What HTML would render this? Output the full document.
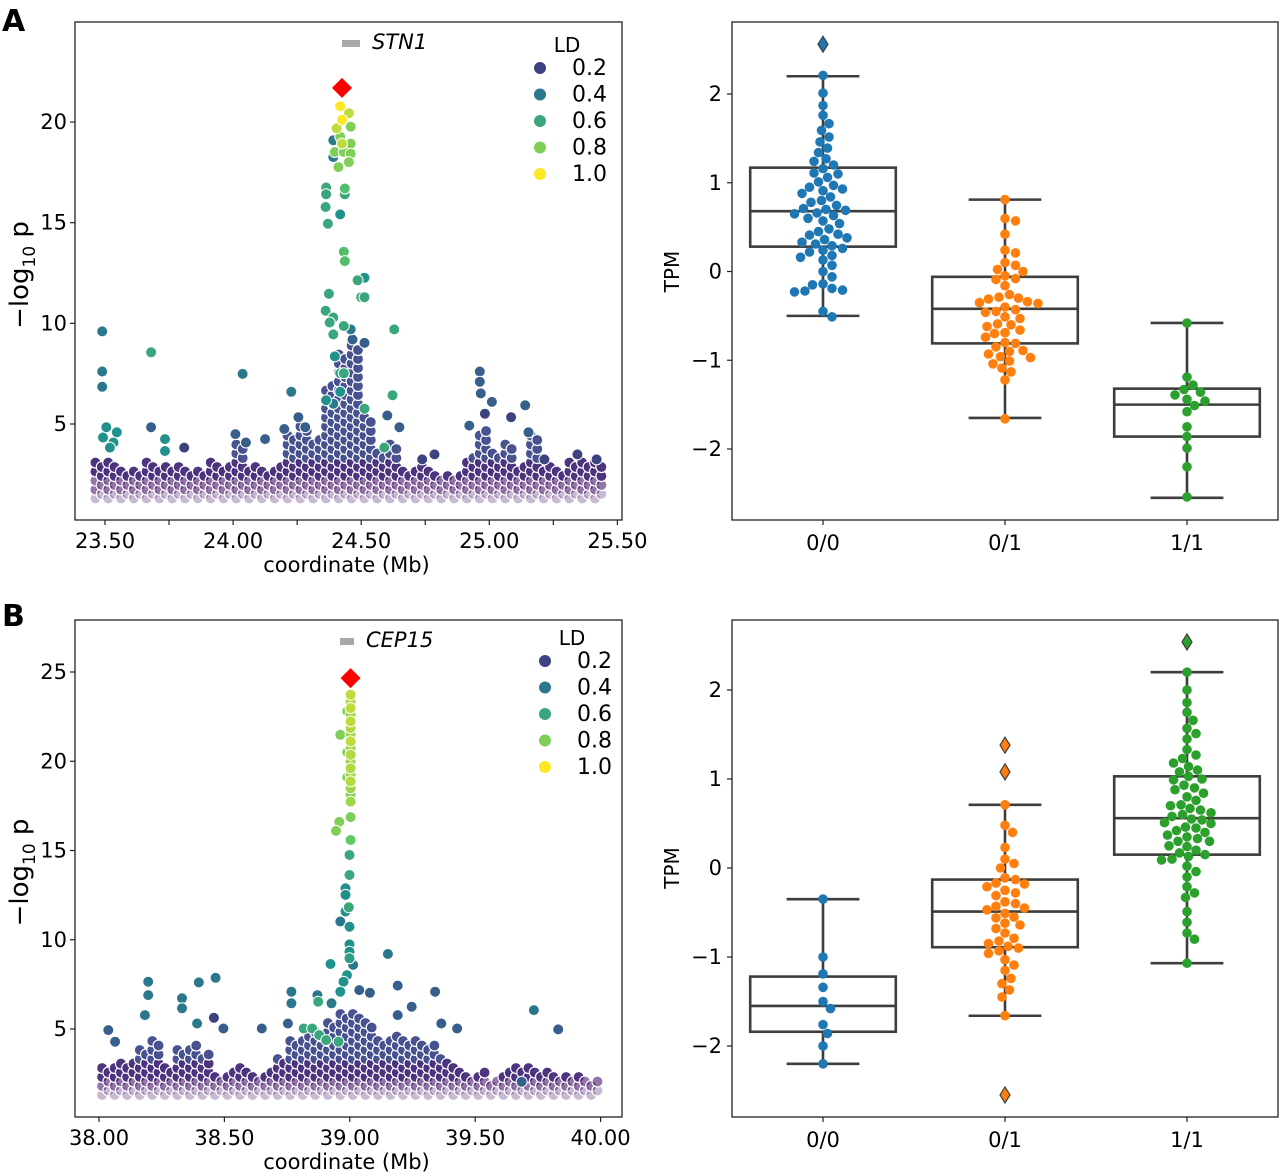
<!DOCTYPE html>
<html><head><meta charset="utf-8">
<style>
html,body{margin:0;padding:0;background:#fff;}
svg{display:block;font-family:"DejaVu Sans","Liberation Sans",sans-serif;}
</style></head>
<body>
<svg id="fig" width="1280" height="1176" viewBox="0 0 1280 1176" xmlns="http://www.w3.org/2000/svg">
<rect width="1280" height="1176" fill="#fff"/>
<text x="2" y="31" font-size="30" font-weight="bold">A</text>
<text x="2" y="626" font-size="30" font-weight="bold">B</text>
<g id="layer"></g>
</svg>
<script>
// ---------- Panel A Manhattan data ----------
const bandA_x = [23.475,23.525,23.575,23.625,23.675,23.725,23.775,23.825,23.875,23.925,23.975,24.025,24.075,24.125,24.175,24.225,24.275,24.325,24.375,24.425,24.475,24.525,24.575,24.625,24.675,24.725,24.775,24.825,24.875,24.925,24.975,25.025,25.075,25.125,25.175,25.225,25.275,25.325,25.375,25.425];
const bandA_top = [3.2,3.3,2.8,2.7,3.3,2.9,3.0,2.8,2.8,3.3,3.0,4.0,3.0,2.7,3.0,4.5,5.0,4.3,7.0,8.5,9.0,5.5,3.6,4.0,2.8,3.0,2.8,2.6,2.6,3.4,4.8,3.6,4.0,3.0,4.5,2.9,2.7,3.3,3.3,3.2];
const snpA_x = [24.418,24.452,24.425,24.459,24.404,24.459,24.391,24.418,24.397,24.432,24.459,24.411,24.452,24.391,24.425,
 24.363,24.363,24.436,24.436,24.361,24.418,24.370,24.432,24.436,24.486,24.513,24.500,24.513,24.374,24.361,24.391,24.377,24.432,24.459,24.629,24.391,24.466,24.513,
 23.489,23.489,23.489,23.680,24.037,24.227,24.963,24.963,24.967,25.010,24.983,25.140,24.622,24.602,24.649,
 23.505,23.546,23.492,23.533,23.519,23.680,23.734,23.734,23.809,24.125,24.009,24.050,24.200,24.255,24.282,24.922,25.085,25.153,25.215,25.419,25.344,24.786,24.738,
 24.418,24.432,24.397,24.363,24.391,24.418,24.513,24.590];
const snpA_p = [20.78,20.44,20.11,19.77,19.69,18.93,19.10,19.27,18.51,18.51,18.43,17.76,18.01,18.26,18.93,
 16.75,16.41,16.70,16.41,15.78,15.41,14.95,13.56,13.09,12.14,12.27,11.30,11.30,11.47,10.63,10.29,10.04,9.87,9.70,9.70,9.45,9.20,9.03,
 9.60,7.61,6.85,8.56,7.49,6.60,7.61,7.10,6.52,6.10,5.51,5.93,6.43,5.42,4.84,
 4.84,4.59,4.33,4.08,3.83,4.84,4.25,3.66,3.83,4.25,4.50,4.08,4.75,5.34,4.84,4.92,5.34,4.59,3.24,3.24,3.49,3.49,3.24,
 7.52,7.52,8.36,6.18,6.01,6.60,5.76,3.83];
const snpA_ld = [1.0,0.9,1.0,0.8,0.9,0.8,0.4,0.8,0.8,0.8,0.8,0.8,0.8,0.4,0.9,
 0.6,0.6,0.7,0.6,0.6,0.5,0.6,0.7,0.7,0.6,0.5,0.6,0.6,0.6,0.6,0.6,0.6,0.6,0.4,0.6,0.6,0.3,0.3,
 0.4,0.4,0.4,0.6,0.4,0.4,0.3,0.3,0.3,0.3,0.2,0.3,0.6,0.3,0.3,
 0.5,0.5,0.5,0.5,0.5,0.3,0.5,0.5,0.2,0.3,0.3,0.3,0.3,0.3,0.3,0.3,0.2,0.3,0.2,0.2,0.2,0.2,0.2,
 0.6,0.6,0.5,0.5,0.4,0.5,0.6,0.6];
const leadA = [24.425, 21.7];
// ---------- Panel B Manhattan data ----------
const bandB_x = [38.025,38.075,38.125,38.175,38.225,38.275,38.325,38.375,38.425,38.475,38.525,38.575,38.625,38.675,38.725,38.775,38.825,38.875,38.925,38.975,39.025,39.075,39.125,39.175,39.225,39.275,39.325,39.375,39.425,39.475,39.525,39.575,39.625,39.675,39.725,39.775,39.825,39.875,39.925,39.975];
const bandB_top = [3.0,3.2,3.2,4.0,4.5,3.0,4.0,4.3,3.6,2.5,2.8,3.0,2.5,2.8,3.5,4.5,4.8,5.0,5.5,6.0,6.0,5.5,4.5,4.8,4.5,4.5,4.2,3.5,3.0,2.5,2.6,2.3,2.8,3.0,3.0,2.7,2.5,2.5,2.4,2.2];
const snpB_x = [39.003,39.003,39.003,39.003,39.003,39.003,39.003,39.003,39.003,39.003,39.003,39.003,39.003,39.003,39.003,39.003,39.003,38.990,38.990,38.962,38.990,
 39.003,38.958,38.945,39.003,38.999,38.999,38.983,38.983,38.996,38.983,38.962,38.999,38.999,38.999,38.999,38.923,39.013,39.152,38.989,38.975,38.962,39.191,39.340,39.734,39.831,
 38.196,38.196,38.183,38.398,38.465,38.331,38.331,38.391,38.458,38.496,38.037,38.064,38.649,38.767,38.767,38.753,38.871,38.874,38.927,38.816,38.850,38.878,38.906,38.955,39.080,39.038,39.191,39.247,39.428,39.365,39.685];
const snpB_p = [23.73,23.35,22.98,22.60,22.23,21.86,21.48,21.11,20.73,20.36,19.99,19.61,19.24,18.87,18.49,18.12,17.74,22.80,20.50,21.48,19.10,
 16.87,16.60,16.10,15.59,14.75,13.63,12.88,12.51,11.82,11.58,11.02,10.73,9.74,9.33,8.96,8.64,8.59,9.20,8.02,7.65,7.09,7.43,7.09,6.06,4.98,
 7.65,6.90,5.78,7.61,7.87,6.72,6.16,5.31,5.63,5.03,4.94,4.29,5.03,7.09,6.44,5.31,6.90,6.53,6.44,5.03,5.03,4.66,4.38,4.29,7.03,7.18,5.78,6.25,5.03,5.31,2.04];
const snpB_ld = [0.9,0.88,0.9,0.85,0.9,0.88,0.85,0.9,0.85,0.88,0.85,0.88,0.85,0.88,0.85,0.8,0.85,0.8,0.8,0.8,0.8,
 0.8,0.8,0.8,0.75,0.6,0.6,0.5,0.5,0.6,0.5,0.4,0.5,0.5,0.5,0.55,0.5,0.4,0.4,0.5,0.5,0.5,0.3,0.3,0.4,0.3,
 0.4,0.4,0.4,0.4,0.4,0.4,0.4,0.4,0.2,0.3,0.3,0.3,0.3,0.4,0.4,0.3,0.4,0.6,0.4,0.6,0.6,0.6,0.6,0.6,0.3,0.3,0.3,0.3,0.3,0.3,0.3];
const leadB = [39.003, 24.66];
// ---------- Box plot data ----------
const cats = ["0/0","0/1","1/1"];
const tpmA_g0 = [2.21,2.01,1.87,1.76,1.665,1.59,1.515,1.46,1.39,1.34,1.27,1.24,1.20,1.16,1.11,1.06,1.01,0.97,0.93,0.91,0.88,0.84,0.78,0.745,0.71,0.69,0.65,0.63,0.54,0.48,0.45,0.41,0.38,0.33,0.31,0.26,0.22,0.18,0.13,0.07,0.0,-0.06,-0.14,-0.19,-0.21,-0.23,-0.45,-0.51,1.10,0.95,0.80,0.70,0.66,0.57,0.42,0.36,0.29,0.24,0.16,-0.15,-0.22,0.60];
const tpmA_g1 = [0.81,0.597,0.57,0.42,0.24,0.21,0.10,0.07,0.024,0.0,-0.08,-0.09,-0.16,-0.26,-0.29,-0.31,-0.34,-0.36,-0.40,-0.43,-0.46,-0.51,-0.53,-0.59,-0.62,-0.66,-0.69,-0.74,-0.80,-0.81,-0.85,-0.89,-0.93,-0.96,-1.01,-1.04,-1.09,-1.13,-1.22,-1.66,-0.35,-0.45,-0.6,-0.7,-0.9,-0.3,-0.05,-0.97];
const tpmA_g2 = [-0.58,-1.19,-1.28,-1.33,-1.39,-1.44,-1.51,-1.58,-1.75,-1.86,-1.99,-2.2,-2.54,-1.36,-1.46];
const statsA_q1 = [0.28,-0.81,-1.86], statsA_med = [0.68,-0.42,-1.50], statsA_q3 = [1.17,-0.06,-1.32];
const statsA_lo = [-0.50,-1.65,-2.55], statsA_hi = [2.20,0.81,-0.58];
const outA_v = [2.56], outA_c = [0];
const tpmB_g0 = [-0.35,-1.0,-1.19,-1.34,-1.50,-1.58,-1.76,-1.86,-2.0,-2.2];
const tpmB_g1 = [0.71,0.48,0.40,0.23,0.10,0.05,0.0,-0.11,-0.13,-0.17,-0.21,-0.25,-0.31,-0.40,-0.43,-0.47,-0.51,-0.56,-0.64,-0.68,-0.73,-0.79,-0.85,-0.90,-0.96,-1.03,-1.09,-1.15,-1.24,-1.30,-1.37,-1.45,-1.66,-0.18,-0.45,-0.55,-0.62,-0.82,-0.88,-0.28,-0.38,-0.93];
const tpmB_g2 = [2.2,2.0,1.86,1.75,1.66,1.57,1.51,1.45,1.33,1.27,1.23,1.18,1.14,1.08,1.03,0.99,0.93,0.88,0.84,0.76,0.71,0.67,0.62,0.58,0.54,0.51,0.46,0.42,0.37,0.33,0.30,0.24,0.20,0.17,0.13,0.09,0.02,-0.04,-0.10,-0.21,-0.28,-0.33,-0.49,-0.61,-0.73,-0.80,-1.07,1.0,0.9,0.8,0.7,0.6,0.5,0.4,0.3,0.25,0.1,0.55,0.65,0.45,0.35,1.1,0.15];
const statsB_q1 = [-1.84,-0.89,0.15], statsB_med = [-1.55,-0.49,0.56], statsB_q3 = [-1.22,-0.13,1.03];
const statsB_lo = [-2.2,-1.66,-1.07], statsB_hi = [-0.35,0.71,2.2];
const outB_v = [1.38,1.08,-2.55,2.54], outB_c = [1,1,1,2];
const ldLegend = [0.2,0.4,0.6,0.8,1.0];
const tickA_x = [23.5,23.75,24.0,24.25,24.5,24.75,25.0,25.25,25.5];
const tickA_lab = ["23.50","24.00","24.50","25.00","25.50"];
const tickA_y = [5,10,15,20];
const tickB_x = [38.0,38.5,39.0,39.5,40.0];
const tickB_lab = ["38.00","38.50","39.00","39.50","40.00"];
const tickB_y = [5,10,15,20,25];
const tickTPM = [2,1,0,-1,-2];

const NS = "http://www.w3.org/2000/svg";
const layer = document.getElementById('layer');
function mk(tag, attrs, parent){ const e=document.createElementNS(NS,tag); for(const k in attrs) e.setAttribute(k,attrs[k]); (parent||layer).appendChild(e); return e; }
const stops=[[0,[68,1,84]],[0.25,[59,82,139]],[0.5,[33,145,140]],[0.75,[94,201,98]],[1,[253,231,37]]];
function viridis(t){ t=Math.max(0,Math.min(1,t)); for(let i=1;i<stops.length;i++){ if(t<=stops[i][0]){ const a=stops[i-1],b=stops[i],f=(t-a[0])/(b[0]-a[0]); return 'rgb('+a[1].map((c,j)=>Math.round(c+(b[1][j]-c)*f)).join(',')+')'; } } return 'rgb(253,231,37)'; }
const boxColors=['#1f77b4','#ff7f0e','#2ca02c'];

function manhattan(cfg){
  const g = mk('g',{});
  
  
  const X = v => cfg.x0 + (v - cfg.xd0) * cfg.xs;
  const Y = v => cfg.y0 - (v - cfg.yd0) * cfg.ys;
  const step = 0.45 * 20 / cfg.ys;
  for (let i=0;i<cfg.bx.length;i++){
    for (let s=0;s<2;s++){
      const mb = cfg.bx[i] + (s? 0.025:0) - 0.0125;
      for (let p=1.3 + (s?step/2:0); p<=cfg.bt[i]; p+=step){
        const c = mk('circle',{cx:X(mb).toFixed(1), cy:Y(p).toFixed(1), r:5.5, fill: p<2.3? '#4b1a6c' : (p<3.2? '#452a78':'#3f4a8a'), stroke:'#fff', 'stroke-width':1.2, 'fill-opacity': p<1.7?0.3:(p<2.2?0.6:0.95)}, g);
        
        
      }
    }
  }
  const order = cfg.sx.map((_,i)=>i).sort((a,b)=>cfg.sl[a]-cfg.sl[b]);
  for (const i of order){
    const c = mk('circle',{cx:X(cfg.sx[i]).toFixed(1), cy:Y(cfg.sp[i]).toFixed(1), r:5.5, fill:viridis(cfg.sl[i]), stroke:'#fff', 'stroke-width':1}, g);
    
    
  }
  const lx=X(cfg.lead[0]), ly=Y(cfg.lead[1]);
  const d = mk('polygon',{points:`${lx},${ly-10} ${lx+10},${ly} ${lx},${ly+10} ${lx-10},${ly}`, fill:'#ff0000'}, g);
  
  
  const f = mk('rect',{x:cfg.bx0,y:cfg.by0,width:cfg.bw,height:cfg.bh,fill:'none',stroke:'#222','stroke-width':1.3}, g);
  
  
  const bottom = cfg.by0+cfg.bh;
  let li=0;
  cfg.tx.forEach((t,i)=>{
    const x=X(t);
    mk('line',{x1:x,x2:x,y1:bottom,y2:bottom+5,stroke:'#222','stroke-width':1.2},g);
    if (cfg.everyOther ? i%2===0 : true){
      const tx = mk('text',{x:x,y:bottom+28,'font-size':21,'text-anchor':'middle'},g);
      tx.textContent = cfg.tl[li++];
      
      
    }
  });
  cfg.ty.forEach(t=>{
    const y=Y(t);
    mk('line',{x1:cfg.bx0-5,x2:cfg.bx0,y1:y,y2:y,stroke:'#222','stroke-width':1.2},g);
    const tx = mk('text',{x:cfg.bx0-8,y:y+7,'font-size':21,'text-anchor':'end'},g);
    tx.textContent = String(t);
    
    
  });
  const xt = mk('text',{x:cfg.bx0+cfg.bw/2-2,y:bottom+52,'font-size':21,'text-anchor':'middle'},g);
  xt.textContent='coordinate (Mb)';
  
  
  const yt = mk('text',{transform:`translate(28,${cfg.by0+cfg.bh/2+4}) rotate(-90)`,'font-size':26,'text-anchor':'middle'},g);
  yt.innerHTML='−log<tspan font-size="17" dy="7">10</tspan><tspan dy="-7"> p</tspan>';
  
  
  const gr = mk('rect',{x:cfg.gene[0],y:cfg.gene[1],width:cfg.gene[2],height:7,fill:'#a8a8a8'},g);
  
  
  const gt = mk('text',{x:cfg.gene[0]+cfg.gene[2]+12,y:cfg.gene[1]+9,'font-size':21,'font-style':'italic'},g);
  gt.textContent=cfg.geneName;
  
  
  const lg = mk('g',{},g);
  
  
  const lt = mk('text',{x:cfg.leg[0]+27,y:cfg.leg[1],'font-size':20,'text-anchor':'middle'},lg);
  lt.textContent='LD';
  ldLegend.forEach((v,i)=>{
    const y = cfg.leg[1]+23+i*26.5;
    const c = mk('circle',{cx:cfg.leg[0],cy:y-7,r:6,fill:viridis(v)},lg);
    
    
    const t = mk('text',{x:cfg.leg[0]+32,y:y,'font-size':22},lg);
    t.textContent=v.toFixed(1);
    
    
  });
}

function swarm(vals, cx, Y, r){
  const pts=[]; const sorted=vals.slice().sort((a,b)=>b-a);
  for(const v of sorted){
    const y=Y(v); let placed=null;
    for(let k=0;k<40 && !placed;k++){
      const cands = k===0?[0]:[k*1.5,-k*1.5];
      for(const o of cands){
        const x=cx+o;
        if(pts.every(p=>(p[0]-x)**2+(p[1]-y)**2 >= (2*r)**2)){ placed=[x,y]; break; }
      }
    }
    pts.push(placed||[cx,y]);
  }
  return pts;
}

function boxplot(cfg){
  const g = mk('g',{});
  
  
  const Y = v => cfg.yz - v*cfg.ys;
  const cx = i => cfg.cx0 + i*cfg.dx;
  const bw = cfg.dx*0.8;
  cats.forEach((c,i)=>{
    const x=cx(i);
    mk('line',{x1:x,x2:x,y1:Y(cfg.hi[i]),y2:Y(cfg.q3[i]),stroke:'#3d3d3d','stroke-width':2.6},g);
    mk('line',{x1:x,x2:x,y1:Y(cfg.q1[i]),y2:Y(cfg.lo[i]),stroke:'#3d3d3d','stroke-width':2.6},g);
    mk('line',{x1:x-bw/4,x2:x+bw/4,y1:Y(cfg.hi[i]),y2:Y(cfg.hi[i]),stroke:'#3d3d3d','stroke-width':2.6},g);
    mk('line',{x1:x-bw/4,x2:x+bw/4,y1:Y(cfg.lo[i]),y2:Y(cfg.lo[i]),stroke:'#3d3d3d','stroke-width':2.6},g);
    const b = mk('rect',{x:x-bw/2,y:Y(cfg.q3[i]),width:bw,height:Y(cfg.q1[i])-Y(cfg.q3[i]),fill:'none',stroke:'#3d3d3d','stroke-width':2.6},g);
    
    
    mk('line',{x1:x-bw/2,x2:x+bw/2,y1:Y(cfg.med[i]),y2:Y(cfg.med[i]),stroke:'#3d3d3d','stroke-width':2.6},g);
    const t = mk('text',{x:x,y:cfg.by0+cfg.bh+30,'font-size':21,'text-anchor':'middle'},g);
    t.textContent=c;
    
    
    mk('line',{x1:x,x2:x,y1:cfg.by0+cfg.bh,y2:cfg.by0+cfg.bh+5,stroke:'#222','stroke-width':1.2},g);
  });
  cfg.outV.forEach((v,k)=>{
    const x=cx(cfg.outC[k]), y=Y(v);
    const d = mk('polygon',{points:`${x},${y-8} ${x+5},${y} ${x},${y+8} ${x-5},${y}`,fill:boxColors[cfg.outC[k]],stroke:'#3d3d3d','stroke-width':1.2},g);
    
    
  });
  cfg.groups.forEach((vals,i)=>{
    swarm(vals,cx(i),Y,4.8).forEach(p=>{
      const c = mk('circle',{cx:p[0].toFixed(1),cy:p[1].toFixed(1),r:4.8,fill:boxColors[i]},g);
      
      
    });
  });
  const f = mk('rect',{x:cfg.bx0,y:cfg.by0,width:cfg.bw,height:cfg.bh,fill:'none',stroke:'#222','stroke-width':1.3},g);
  
  
  tickTPM.forEach(t=>{
    const y=Y(t);
    mk('line',{x1:cfg.bx0-5,x2:cfg.bx0,y1:y,y2:y,stroke:'#222','stroke-width':1.2},g);
    const tx = mk('text',{x:cfg.bx0-10,y:y+7,'font-size':21,'text-anchor':'end'},g);
    tx.textContent = t<0 ? '−'+Math.abs(t) : String(t);
    
    
  });
  const yt = mk('text',{transform:`translate(${cfg.bx0-53},${Y(0)}) rotate(-90)`,'font-size':20,'text-anchor':'middle'},g);
  yt.textContent='TPM';
  
  
}

manhattan({name:'manhattan-plot-a',x0:105,xd0:23.5,xs:256.2,y0:424,yd0:5,ys:20.13,
  bx:bandA_x,bt:bandA_top,sx:snpA_x,sp:snpA_p,sl:snpA_ld,lead:leadA,
  bx0:75,by0:22,bw:547,bh:498,tx:tickA_x,tl:tickA_lab,everyOther:true,ty:tickA_y,
  gene:[342,40,18],geneName:'STN1',leg:[540,52]});
manhattan({name:'manhattan-plot-b',x0:99,xd0:38,xs:250.8,y0:1029,yd0:5,ys:17.85,
  bx:bandB_x,bt:bandB_top,sx:snpB_x,sp:snpB_p,sl:snpB_ld,lead:leadB,
  bx0:75,by0:620,bw:547,bh:497,tx:tickB_x,tl:tickB_lab,everyOther:false,ty:tickB_y,
  gene:[340,638,14],geneName:'CEP15',leg:[545,645]});
boxplot({name:'tpm-boxplot-a',yz:271.5,ys:88.75,cx0:823,dx:182,bx0:732,by0:22,bw:546,bh:498,
  groups:[tpmA_g0,tpmA_g1,tpmA_g2],q1:statsA_q1,med:statsA_med,q3:statsA_q3,lo:statsA_lo,hi:statsA_hi,outV:outA_v,outC:outA_c});
boxplot({name:'tpm-boxplot-b',yz:868,ys:89,cx0:823,dx:182,bx0:732,by0:620,bw:546,bh:497,
  groups:[tpmB_g0,tpmB_g1,tpmB_g2],q1:statsB_q1,med:statsB_med,q3:statsB_q3,lo:statsB_lo,hi:statsB_hi,outV:outB_v,outC:outB_c});
</script>
</body></html>
